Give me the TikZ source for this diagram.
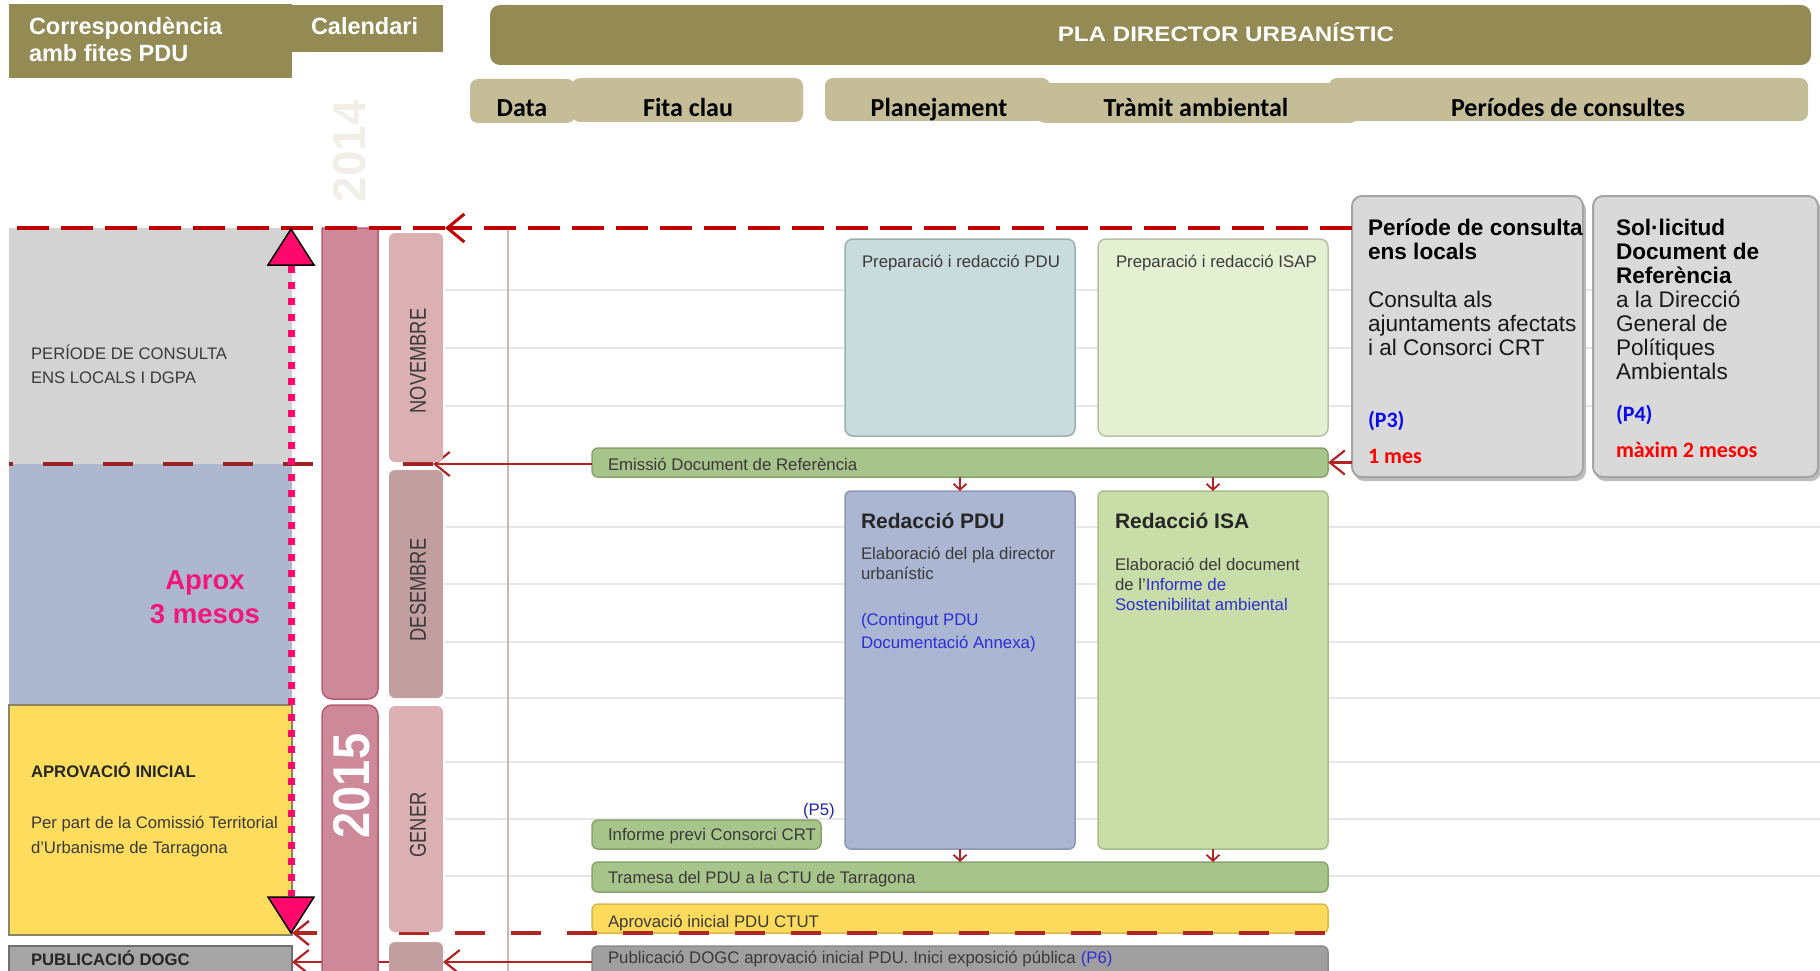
\documentclass[tikz,border=0pt]{standalone}
\usepackage{fontspec}
\setmainfont{Liberation Sans}
\newfontfamily\calfont{Carlito}
\usetikzlibrary{arrows.meta,fit}
\newcommand\fsz[1]{\fontsize{#1}{#1}\selectfont}
\definecolor{cOlive}{HTML}{948A54}
\definecolor{cTan}{HTML}{C4BD97}
\definecolor{cLGray}{HTML}{D3D3D3}
\definecolor{cLBlue}{HTML}{ADB7D0}
\definecolor{cYel}{HTML}{FEDC5D}
\definecolor{cYelB}{HTML}{8A8560}
\definecolor{cPubGray}{HTML}{A5A5A5}
\definecolor{cPubB}{HTML}{6F6F6F}
\definecolor{cBar}{HTML}{CD8899}
\definecolor{cBarD}{HTML}{B65C72}
\definecolor{cMonL}{HTML}{DBB0B3}
\definecolor{cMonD}{HTML}{C29EA0}
\definecolor{cGrid}{HTML}{E6E6E6}
\definecolor{cVline}{HTML}{CDB5B5}
\definecolor{cPrepB}{HTML}{C9DCDC}
\definecolor{cPrepBB}{HTML}{9DAEAE}
\definecolor{cPrepG}{HTML}{E5F0D3}
\definecolor{cPrepGB}{HTML}{B5C2A5}
\definecolor{cGreen}{HTML}{A7C48B}
\definecolor{cGreenB}{HTML}{88A36D}
\definecolor{cRedB}{HTML}{AAB6D2}
\definecolor{cRedBB}{HTML}{8C97B6}
\definecolor{cRedG}{HTML}{C9DDA8}
\definecolor{cRedGB}{HTML}{A9BD8C}
\definecolor{cYelBar}{HTML}{FCDA5B}
\definecolor{cYelBarB}{HTML}{D9B84A}
\definecolor{cGrayBar}{HTML}{9F9F9F}
\definecolor{cGrayBarB}{HTML}{8A8A8A}
\definecolor{cRed}{HTML}{C00000}
\definecolor{cArr}{HTML}{B02424}
\definecolor{cPink}{HTML}{FF0A6C}
\definecolor{cAprox}{HTML}{F0167A}
\definecolor{cBlueTxt}{HTML}{2E2ED6}
\definecolor{cTxt}{HTML}{3A3A3A}
\definecolor{cBoxG}{HTML}{D9D9D9}
\definecolor{cBoxGB}{HTML}{A5A5A5}
\definecolor{cShadow}{HTML}{BDBDBD}
\definecolor{cPBlue}{HTML}{0A0AF0}
\definecolor{cRedTxt}{HTML}{FF0000}
\definecolor{cFaint}{HTML}{F0EEE6}
\begin{document}
\begin{tikzpicture}[x=1pt,y=-1pt,
  t/.style={inner sep=0pt, outer sep=0pt, anchor=base west},
  tc/.style={inner sep=0pt, outer sep=0pt, anchor=base},
  bx/.style={inner sep=0pt, outer sep=0pt},
  hdrtxt/.style={t, text=white, font=\bfseries\fsz{23.5}},
  tantxt/.style={tc, text=black, font=\calfont\bfseries\fsz{26}},
  lefttxt/.style={t, text=cTxt, font=\fsz{16.7}},
  leftbold/.style={t, text=black!85, font=\bfseries\fsz{16.7}},
  midtxt/.style={t, text=cTxt, font=\fsz{16.8}},
  midbold/.style={t, text=black!85, font=\bfseries\fsz{21}},
  bluetxt/.style={midtxt, text=cBlueTxt},
  rbold/.style={t, text=black, font=\bfseries\fsz{22.6}},
  rreg/.style={t, text=black!90, font=\fsz{22.6}},
  pnum/.style={t, text=cPBlue, font=\calfont\bfseries\fsz{22}},
  redtxt/.style={t, text=cRedTxt, font=\calfont\bfseries\fsz{22}},
  montxt/.style={inner sep=0pt, rotate=90, text=cTxt, font=\fsz{18.3}},
  gridl/.style={draw=cGrid, line width=1.8pt},
  arrline/.style={draw=cArr, line width=2.2pt, -{Straight Barb[length=15pt,width=24pt]}},
  sarrow/.style={draw=cArr, line width=1.8pt, -{Straight Barb[length=6pt,width=13pt]}},
  topdash/.style={draw=cRed, line width=4pt, dash pattern=on 32pt off 12pt},
  middash/.style={draw=cArr!90!black, line width=3.6pt, dash pattern=on 30pt off 30pt},
  botdash/.style={draw=cArr, line width=3.6pt, dash pattern=on 30pt off 26pt},
]
\useasboundingbox (0,0) rectangle (1820,971);
\clip (0,0) rectangle (1820,971);

% ---------- header ----------
\node[bx, fit={(9,4) (292,78)}, fill=cOlive] (corr) {};
\node[bx, fit={(292,5) (443,52)}, fill=cOlive] (calh) {};
\node[bx, fit={(490,5) (1811,65)}, fill=cOlive, rounded corners=10pt] (pla) {};
\node[bx, fit={(470,79) (575,123)}, fill=cTan, rounded corners=8pt] (hdata) {};
\node[bx, fit={(572,78) (803,122)}, fill=cTan, rounded corners=8pt] (hfita) {};
\node[bx, fit={(1329,78) (1808,121)}, fill=cTan, rounded corners=8pt] (hper) {};
\node[bx, fit={(825,78) (1050,121)}, fill=cTan, rounded corners=8pt] (hplan) {};
\node[bx, fit={(1037,83) (1358,123)}, fill=cTan, rounded corners=8pt] (htram) {};

\node[hdrtxt] (tcorr1) at (29,35) {Correspondència};
\node[hdrtxt] (tcorr2) at (29,62) {amb fites PDU};
\node[hdrtxt] (tcal) at (311,35) {Calendari};
\node[tc, text=white, font=\bfseries\fsz{21}] (tpla) at (1226,42) {\scalebox{1.15}[1]{PLA DIRECTOR URBANÍSTIC}};
\node[tantxt] (tdata) at (522,117) {Data};
\node[tantxt] (tfita) at (688,117) {Fita clau};
\node[tantxt] (tplan) at (939,117) {Planejament};
\node[tantxt] (ttram) at (1196,117) {Tràmit ambiental};
\node[tantxt] (tper) at (1568,117) {Períodes de consultes};

\node[inner sep=0pt, rotate=90, text=cFaint, font=\bfseries\fsz{46}] (t2014) at (350,151) {2014};

% ---------- left column ----------
\node[bx, fit={(9,228) (292,464)}, fill=cLGray] (lgray) {};
\node[bx, fit={(9,464) (292,705)}, fill=cLBlue] (lblue) {};
\node[bx, fit={(9,705) (292,935)}, fill=cYel, draw=cYelB, line width=1.5pt] (apl) {};
\node[bx, fit={(9,946) (292,995)}, fill=cPubGray, draw=cPubB, line width=1.5pt] (publ) {};

% ---------- grid ----------
\foreach \yy in {290,348,406,527,584,642,698,762,819,876}
  \draw[gridl] (445,\yy) -- (1820,\yy);
\draw[draw=cVline, line width=1.5pt] (508,228) -- (508,971);

% ---------- middle boxes ----------
\node[bx, fit={(845,239) (1075,436)}, fill=cPrepB, draw=cPrepBB, line width=1.5pt, rounded corners=8pt] (prepP) {};
\node[bx, fit={(1098,239) (1328,436)}, fill=cPrepG, draw=cPrepGB, line width=1.5pt, rounded corners=8pt] (prepI) {};
\node[bx, fit={(592,448) (1328,477)}, fill=cGreen, draw=cGreenB, line width=1.5pt, rounded corners=6pt] (em) {};
\node[bx, fit={(845,491) (1075,849)}, fill=cRedB, draw=cRedBB, line width=1.5pt, rounded corners=6pt] (rpdu) {};
\node[bx, fit={(1098,491) (1328,849)}, fill=cRedG, draw=cRedGB, line width=1.5pt, rounded corners=6pt] (risa) {};
\node[bx, fit={(592,820) (821,849)}, fill=cGreen, draw=cGreenB, line width=1.5pt, rounded corners=6pt] (inf) {};
\node[bx, fit={(592,862) (1328,892)}, fill=cGreen, draw=cGreenB, line width=1.5pt, rounded corners=6pt] (tram) {};
\node[bx, fit={(592,904) (1328,933)}, fill=cYelBar, draw=cYelBarB, line width=1.5pt, rounded corners=6pt] (apm) {};
\node[bx, fit={(592,946) (1328,995)}, fill=cGrayBar, draw=cGrayBarB, line width=1.5pt, rounded corners=6pt] (pub) {};

\draw[sarrow] (em.south -| rpdu.north) -- (rpdu.north);
\draw[sarrow] (em.south -| risa.north) -- (risa.north);
\draw[sarrow] (rpdu.south) -- (rpdu.south |- tram.north);
\draw[sarrow] (risa.south) -- (risa.south |- tram.north);

% ---------- right boxes ----------
\fill[cShadow, rounded corners=10pt] (1354,200) rectangle (1586,481);
\node[bx, fit={(1352,196) (1583,477)}, fill=cBoxG, draw=cBoxGB, line width=2pt, rounded corners=10pt] (pc) {};
\fill[cShadow, rounded corners=10pt] (1595,200) rectangle (1821,481);
\node[bx, fit={(1593,196) (1818,477)}, fill=cBoxG, draw=cBoxGB, line width=2pt, rounded corners=10pt] (sol) {};

% ---------- red connectors (under calendar) ----------
\coordinate (cal) at (445,228);
\coordinate (tl) at (9,228);
\coordinate (m2) at (433,464);
\coordinate (l2) at (9,464);
\coordinate (d3e) at (1325,933);
\coordinate (a3) at (292,933);
\coordinate (m5) at (443,962);
\coordinate (a5) at (292,962);

\draw[arrline] (pc.west |- em.east) -- (em.east);
\draw[arrline] (em.west |- m2) -- (m2);
\draw[middash] (m2) -- (l2);
\draw[botdash, -{Straight Barb[length=15pt,width=24pt,line width=2.4pt]}] (d3e) -- (a3);
\draw[arrline] (pub.west |- m5) -- (m5);
\draw[arrline] (m5) -- (a5);

% ---------- calendar ----------
\draw[fill=cBar, draw=cBarD, line width=1.5pt] (322,228) [rounded corners=10pt] -- (322,699) -- (378,699) [sharp corners] -- (378,228) -- cycle;
\draw[fill=cBar, draw=cBarD, line width=1.5pt] (322,1000) [rounded corners=10pt] -- (322,705) -- (378,705) [sharp corners] -- (378,1000) -- cycle;
\node[bx, fit={(389,233) (443,462)}, fill=cMonL, rounded corners=6pt] (mnov) {};
\node[bx, fit={(389,470) (443,698)}, fill=cMonD, rounded corners=6pt] (mdes) {};
\node[bx, fit={(389,706) (443,932)}, fill=cMonL, rounded corners=6pt] (mgen) {};
\node[bx, fit={(389,942) (443,1000)}, fill=cMonD, rounded corners=6pt] (mfeb) {};

\node[montxt] (tnov) at (418,361) {\scalebox{1}[1.25]{NOVEMBRE}};
\node[montxt] (tdes) at (418,590) {\scalebox{1}[1.25]{DESEMBRE}};
\node[montxt] (tgen) at (418,825) {\scalebox{1}[1.25]{GENER}};
\node[inner sep=0pt, rotate=90, text=white, font=\bfseries\fsz{47}] (t2015) at (352,786) {\scalebox{1}[1.1]{2015}};

% ---------- top dashed connector ----------
\draw[topdash, -{Straight Barb[length=17pt,width=28pt,line width=3pt]}] (pc.west |- cal) -- (cal);
\draw[topdash] (cal) -- (tl);

% ---------- pink double arrow ----------
\draw[cPink, line width=7pt, dash pattern=on 7pt off 9pt] (291,266) -- (291,896);
\filldraw[fill=cPink, draw=black, line width=1.5pt] (268,265) -- (314,265) -- (291,229) -- cycle;
\filldraw[fill=cPink, draw=black, line width=1.5pt] (268,897) -- (314,897) -- (291,933) -- cycle;

% ---------- left texts ----------
\node[lefttxt] (tl1) at (31,359) {PERÍODE DE CONSULTA};
\node[lefttxt] (tl2) at (31,383) {ENS LOCALS I DGPA};
\node[tc, text=cAprox, font=\bfseries\fsz{27.5}] (tap1) at (205,589) {Aprox};
\node[tc, text=cAprox, font=\bfseries\fsz{27.5}] (tap2) at (205,623) {3 mesos};
\node[leftbold] (tl3) at (31,777) {APROVACIÓ INICIAL};
\node[lefttxt] (tl4) at (31,828) {Per part de la Comissió Territorial};
\node[lefttxt] (tl5) at (31,853) {d'Urbanisme de Tarragona};
\node[leftbold] (tl6) at (31,965) {PUBLICACIÓ DOGC};

% ---------- middle texts ----------
\node[midtxt] (tm1) at (862,267) {Preparació i redacció PDU};
\node[midtxt] (tm2) at (1116,267) {Preparació i redacció ISAP};
\node[midtxt] (tm3) at (608,470) {Emissió Document de Referència};
\node[midbold] (tm4) at (861,528) {Redacció PDU};
\node[midtxt] (tm5) at (861,559) {Elaboració del pla director};
\node[midtxt] (tm6) at (861,579) {urbanístic};
\node[bluetxt] (tm7) at (861,625) {(Contingut PDU};
\node[bluetxt] (tm8) at (861,648) {Documentació Annexa)};
\node[midbold] (tm9) at (1115,528) {Redacció ISA};
\node[midtxt] (tm10) at (1115,570) {Elaboració del document};
\node[midtxt] (tm11) at (1115,590) {de l'\textcolor{cBlueTxt}{Informe de}};
\node[bluetxt] (tm12) at (1115,610) {Sostenibilitat ambiental};
\node[midtxt, text=cBlueTxt!80!black] (tm13) at (803,815) {(P5)};
\node[midtxt] (tm14) at (608,840) {Informe previ Consorci CRT};
\node[midtxt] (tm15) at (608,883) {Tramesa del PDU a la CTU de Tarragona};
\node[midtxt] (tm16) at (608,927) {Aprovació inicial PDU CTUT};
\node[midtxt] (tm17) at (608,963) {Publicació DOGC aprovació inicial PDU. Inici exposició pública\hspace{5pt}\textcolor{cBlueTxt}{(P6)}};

% ---------- right texts ----------
\node[rbold] (tr1) at (1368,235) {Període de consulta};
\node[rbold] (tr2) at (1368,259) {ens locals};
\node[rreg] (tr3) at (1368,307) {Consulta als};
\node[rreg] (tr4) at (1368,331) {ajuntaments afectats};
\node[rreg] (tr5) at (1368,355) {i al Consorci CRT};
\node[pnum] (tr6) at (1368,427) {(P3)};
\node[redtxt] (tr7) at (1368,463) {1 mes};
\node[rbold] (ts1) at (1616,235) {Sol·licitud};
\node[rbold] (ts2) at (1616,259) {Document de};
\node[rbold] (ts3) at (1616,283) {Referència};
\node[rreg] (ts4) at (1616,307) {a la Direcció};
\node[rreg] (ts5) at (1616,331) {General de};
\node[rreg] (ts6) at (1616,355) {Polítiques};
\node[rreg] (ts7) at (1616,379) {Ambientals};
\node[pnum] (ts8) at (1616,421) {(P4)};
\node[redtxt] (ts9) at (1616,457) {màxim 2 mesos};
\end{tikzpicture}
\end{document}
